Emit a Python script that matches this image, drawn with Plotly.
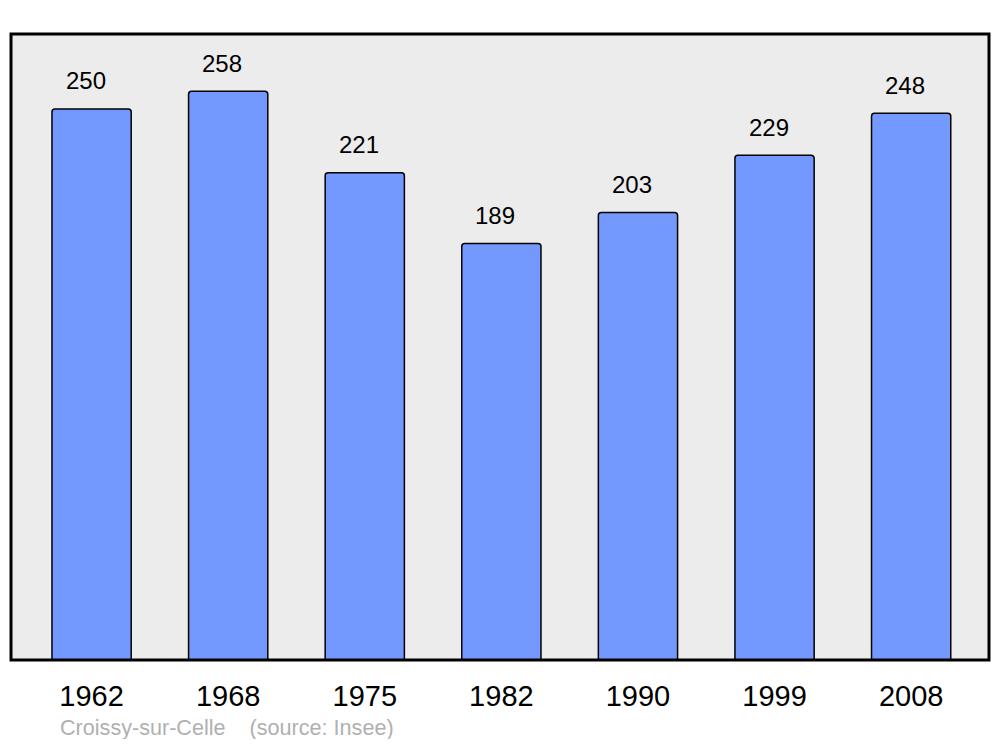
import plotly.graph_objects as go

years = ["1962", "1968", "1975", "1982", "1990", "1999", "2008"]
population = [250, 258, 221, 189, 203, 229, 248]
footer_text = "Croissy-sur-Celle    (source: Insee)"

fig = go.Figure()
fig.add_trace(go.Bar(
    x=years, y=population, width=0.58,
    marker=dict(color="#7399ff", line=dict(color="#000000", width=1.5), cornerradius=3),
    hoverinfo="skip",
))

for i, v in enumerate(population):
    fig.add_annotation(x=i, y=v, text=str(v), showarrow=False, yshift=28, xshift=-6,
                       font=dict(family="Liberation Sans, Arial", size=24, color="#000000"))

fig.add_annotation(xref="paper", yref="paper", x=0.048, y=-0.108, xanchor="left", yanchor="middle",
                   text=footer_text, showarrow=False,
                   font=dict(family="Liberation Sans, Arial", size=21.6, color="#b0b0b0"))

fig.add_shape(type="rect", xref="paper", yref="paper", x0=0, y0=0, x1=1, y1=1,
              line=dict(color="#000000", width=3), layer="above")

fig.update_layout(
    width=984, height=731,
    margin=dict(l=3, r=3, t=26, b=79),
    paper_bgcolor="#ffffff", plot_bgcolor="#ececec",
    showlegend=False,
    xaxis=dict(type="category", range=[-0.59, 6.57], showgrid=False, zeroline=False,
               ticks="", showline=False, ticklabelstandoff=16,
               tickfont=dict(family="Liberation Sans, Arial", size=29, color="#000000")),
    yaxis=dict(range=[0, 284], showgrid=False, zeroline=False, showticklabels=False, ticks=""),
)

fig.write_html("out.html")
